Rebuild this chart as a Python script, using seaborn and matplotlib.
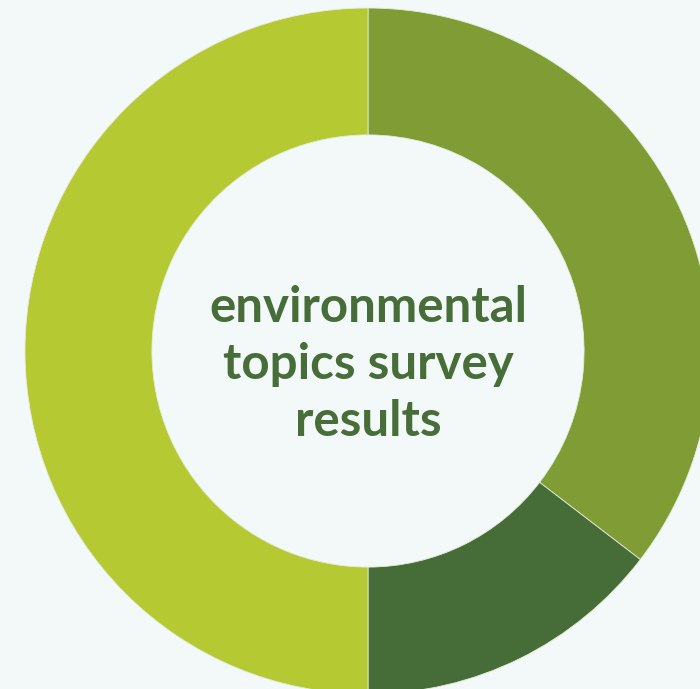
import matplotlib
matplotlib.use("Agg")
import matplotlib.pyplot as plt
import seaborn as sns

# Survey shares, clockwise from 12 o'clock
topics = ["Topic A", "Topic B", "Topic C"]
shares = [35.4, 14.6, 50.0]
palette = ["#7f9c35", "#466d37", "#b5c932"]
title_lines = ["environmental", "topics survey", "results"]

BG = "#f3f8f9"
sns.set_style("white", {"axes.facecolor": BG, "figure.facecolor": BG})
plt.rcParams["font.family"] = ["Lato", "DejaVu Sans"]

W, H = 700, 689
fig = plt.figure(figsize=(W / 100, H / 100), dpi=100)
ax = fig.add_axes([0, 0, 1, 1])

colors = sns.color_palette(palette)
ax.pie(shares, colors=colors, startangle=90, counterclock=False,
       radius=1.0,
       wedgeprops=dict(width=0.37, edgecolor="#e4ecd8", linewidth=0.6))

# Donut centre sits at (368, 351) px with an outer radius of 343 px
cx, cy, r = 368, 351, 343
ax.set_xlim(-cx / r, (W - cx) / r)
ax.set_ylim(-(H - cy) / r, cy / r)
ax.set_aspect("auto")
ax.axis("off")

ax.text(0, -0.04, "\n".join(title_lines), ha="center", va="center",
        fontsize=35.5, fontweight="bold", color="#476d38",
        linespacing=1.32)

fig.savefig("out.png", dpi=100, facecolor=BG)
